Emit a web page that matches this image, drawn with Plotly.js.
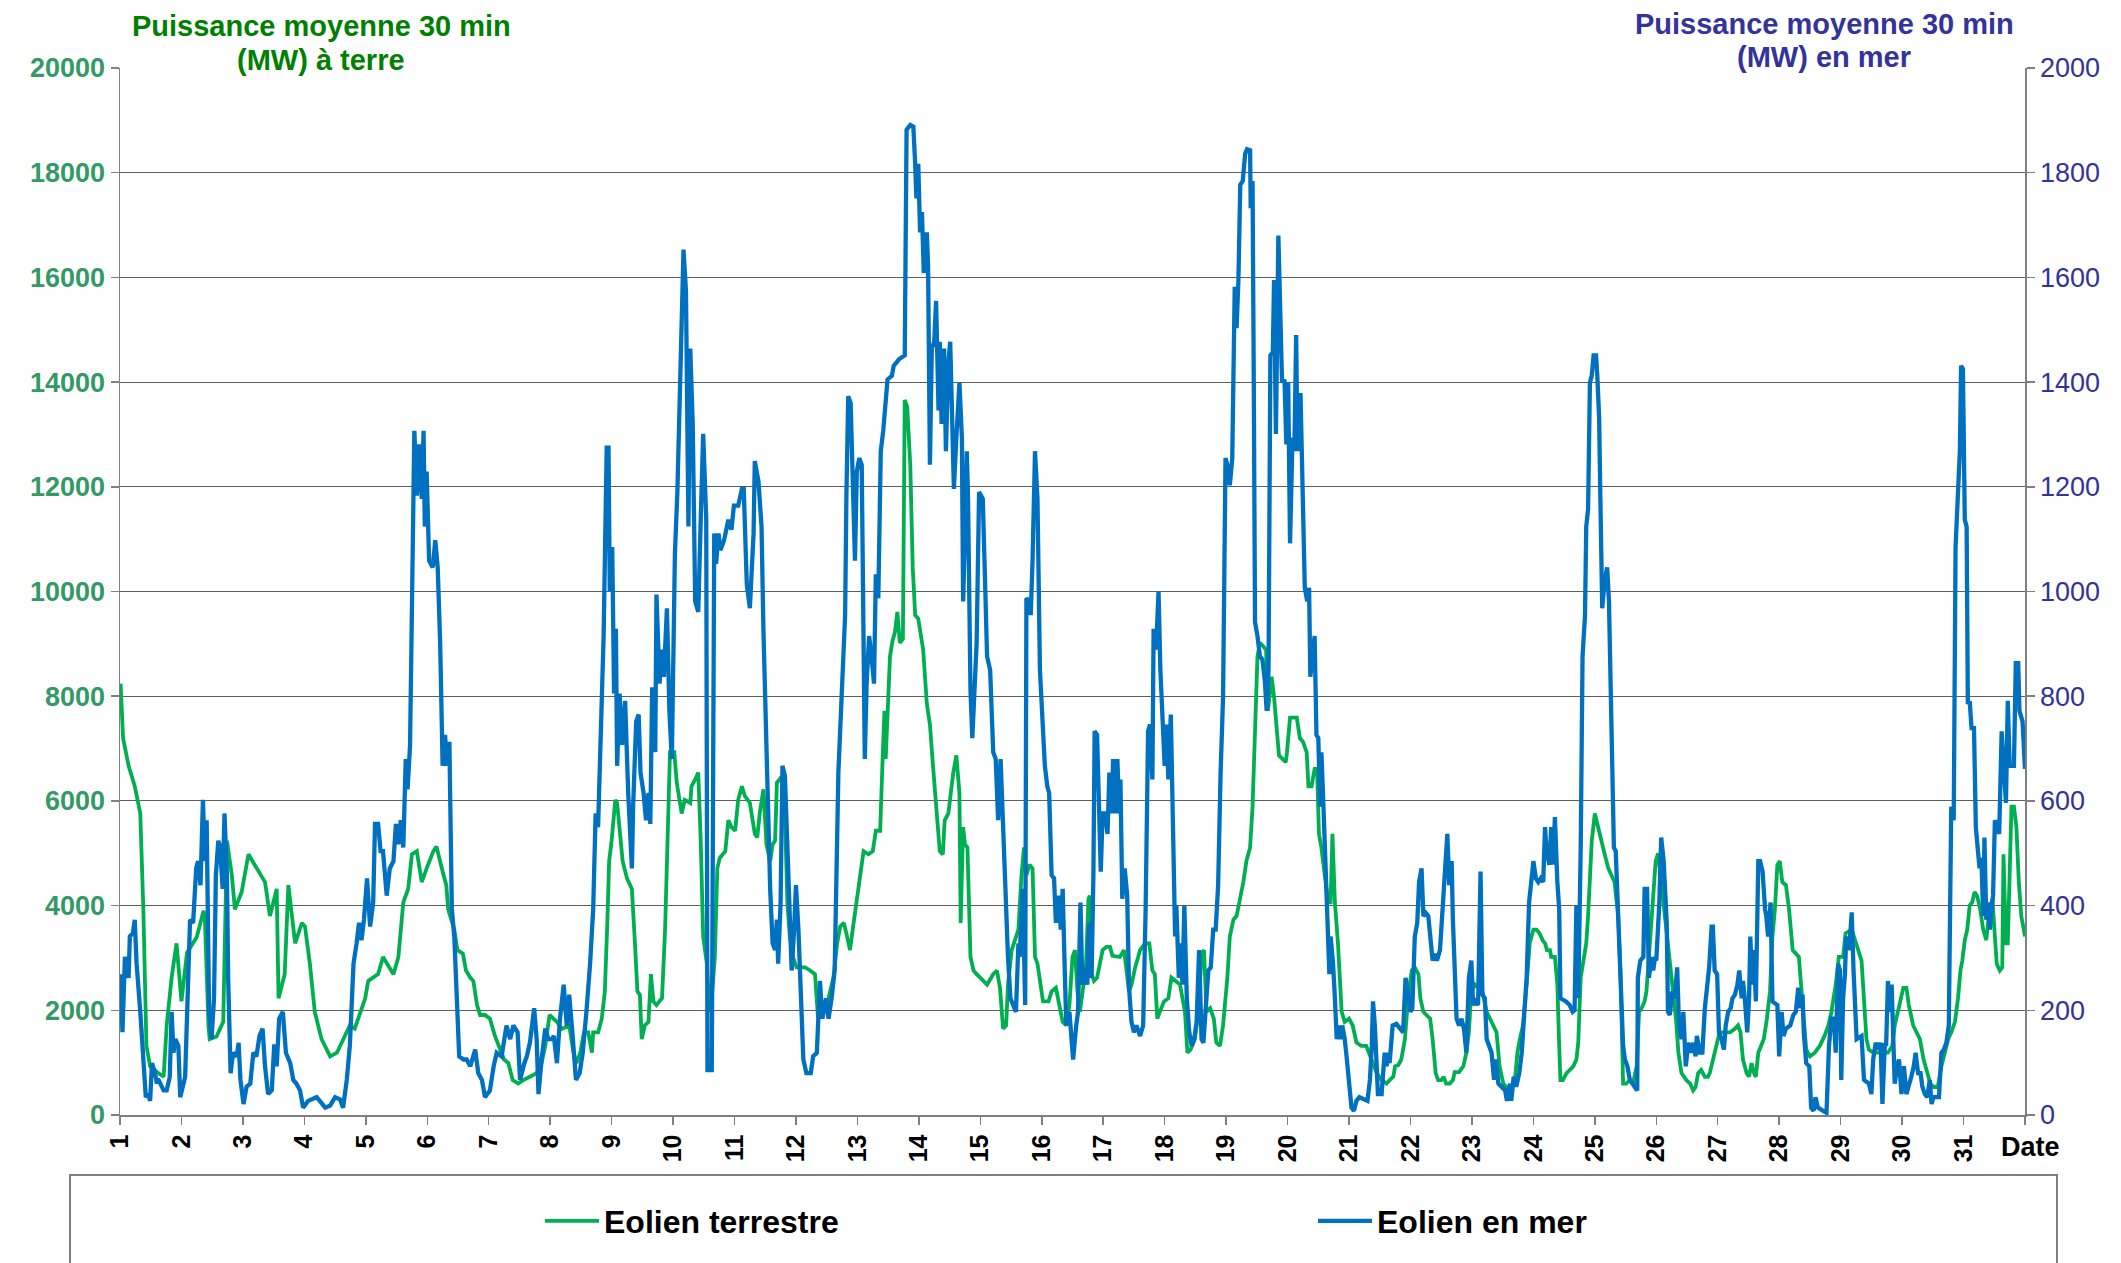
<!DOCTYPE html>
<html><head><meta charset="utf-8">
<script src="https://cdn.plot.ly/plotly-3.0.1.min.js"></script>
<style>html,body{margin:0;padding:0;background:#fff;}#chart{width:2121px;height:1263px;}</style>
</head><body><div id="chart"></div>
<script>
// Eolien terrestre (MW, axe gauche) : [jour, MW]
const terreSamples = [
[1.01,8240],[1.05,7200],[1.14,6670],[1.19,6480],[1.24,6280],[1.33,5760],[1.38,3930],[1.43,1320],[1.49,930],[1.60,820],[1.71,730],[1.76,1710],[1.84,2625],[1.92,3280],[2.00,2170],[2.09,3100],[2.25,3400],[2.36,3900],[2.38,3800],[2.44,1700],[2.46,1450],[2.57,1500],[2.68,1780],[2.74,5240],[2.82,4580],[2.87,3930],[2.98,4260],
[3.09,4980],[3.22,4710],[3.36,4450],[3.44,3800],[3.55,4320],[3.58,2230],[3.68,2690],[3.74,4390],[3.85,3280],[3.96,3670],[4.01,3600],[4.09,2890],[4.17,1970],[4.28,1450],[4.42,1120],[4.53,1190],[4.63,1450],[4.74,1710],[4.82,1650],[4.99,2230],
[5.04,2560],[5.20,2690],[5.28,3020],[5.45,2690],[5.53,3020],[5.61,4060],[5.69,4320],[5.75,4980],[5.83,5040],[5.91,4450],[5.99,4710],[6.05,4910],[6.10,5040],[6.15,5130],[6.20,4850],[6.25,4650],[6.31,4390],[6.34,3930],[6.44,3540],[6.49,3150],[6.58,3080],[6.63,2760],[6.70,2625],[6.75,2560],[6.81,2100],[6.86,1910],[6.94,1910],
[7.02,1840],[7.10,1515],[7.18,1250],[7.25,1060],[7.32,990],[7.39,666],[7.48,600],[7.56,666],[7.67,730],[7.78,800],[7.86,990],[7.92,1320],[7.99,1910],[8.05,1840],[8.11,1780],[8.19,1645],[8.31,1710],[8.38,1190],[8.43,990],[8.49,1190],[8.55,1580],[8.62,1580],[8.68,1190],[8.70,1580],[8.78,1580],[8.84,1840],[8.89,2360],[8.93,3670],[8.96,4850],
[9.00,5240],[9.06,6020],[9.09,5960],[9.14,5240],[9.18,4850],[9.25,4520],[9.33,4320],[9.38,3280],[9.42,2360],[9.46,2300],[9.49,1450],[9.54,1710],[9.60,1780],[9.64,2690],[9.68,2170],[9.73,2100],[9.82,2230],[9.87,3540],[9.91,5240],[9.95,6930],
[10.02,6930],[10.06,6350],[10.14,5760],[10.19,6020],[10.28,5960],[10.30,6280],[10.36,6410],[10.41,6540],[10.45,5240],[10.49,3410],[10.55,2890],[10.59,1970],[10.63,2230],[10.68,3020],[10.72,4710],[10.76,4910],[10.85,5040],[10.90,5630],[10.95,5500],
[11.01,5430],[11.06,6020],[11.12,6280],[11.17,6090],[11.25,5960],[11.33,5370],[11.37,5300],[11.41,5760],[11.47,6220],[11.52,5170],[11.58,4850],[11.62,5170],[11.66,5240],[11.69,6350],[11.74,6410],[11.78,6480],[11.82,5760],[11.86,4060],[11.90,3410],[11.95,3020],
[12.01,2820],[12.15,2820],[12.23,2760],[12.31,2690],[12.36,1840],[12.40,2100],[12.45,2040],[12.53,2230],[12.61,2625],[12.67,3280],[12.72,3600],[12.78,3670],[12.82,3470],[12.88,3150],[12.93,3600],[12.98,4060],
[13.03,4520],[13.10,5040],[13.18,4980],[13.25,5040],[13.30,5430],[13.37,5430],[13.41,6800],[13.44,7720],[13.46,6800],[13.49,7720],[13.53,8760],[13.57,9050],[13.61,9220],[13.65,9610],[13.69,9020],[13.74,9090],[13.77,13660],[13.81,13530],[13.86,12420],[13.90,10460],[13.94,9550],[13.99,9480],
[14.03,9150],[14.07,8890],[14.13,7850],[14.18,7460],[14.23,6670],[14.29,5890],[14.34,5040],[14.39,4980],[14.42,5630],[14.48,5760],[14.52,6150],[14.56,6540],[14.61,6870],[14.66,6150],[14.68,3670],[14.72,5500],[14.75,5170],[14.79,5110],[14.84,3020],[14.89,2760],[14.94,2690],[14.99,2625],
[15.11,2490],[15.21,2690],[15.27,2760],[15.32,2430],[15.37,1650],[15.42,1710],[15.45,2490],[15.51,3150],[15.62,3540],[15.67,4580],[15.71,5110],[15.75,4580],[15.80,4780],[15.85,4710],[15.89,3020],[15.93,2890],[15.97,2560],
[16.02,2170],[16.11,2170],[16.16,2360],[16.23,2430],[16.28,2170],[16.34,1780],[16.40,1710],[16.45,2100],[16.50,3020],[16.54,3150],[16.58,2360],[16.62,1970],[16.68,2490],[16.72,2890],[16.76,4130],[16.78,4190],[16.81,2690],[16.85,2560],[16.90,2625],[16.95,2890],[16.99,3150],
[17.05,3210],[17.11,3210],[17.15,3040],[17.27,3020],[17.34,3150],[17.38,2760],[17.42,2360],[17.46,2490],[17.52,2820],[17.60,3150],[17.68,3280],[17.75,3280],[17.80,2760],[17.84,2690],[17.88,1840],[17.92,1970],[17.99,2170],
[18.06,2230],[18.11,2625],[18.18,2560],[18.25,2490],[18.33,1970],[18.37,1190],[18.42,1250],[18.49,1450],[18.55,1970],[18.60,3080],[18.64,3150],[18.68,1970],[18.74,2040],[18.80,1840],[18.84,1385],[18.90,1320],[18.95,1710],
[19.02,2625],[19.06,3410],[19.12,3735],[19.17,3800],[19.22,4060],[19.28,4450],[19.33,4850],[19.39,5110],[19.43,5890],[19.47,7330],[19.51,8760],[19.55,9020],[19.65,8890],[19.68,7720],[19.74,8370],[19.78,7980],[19.82,7390],[19.86,6870],[19.97,6740],[19.99,6930],
[20.04,7590],[20.15,7590],[20.20,7200],[20.25,7130],[20.31,6930],[20.34,6280],[20.39,6280],[20.44,6610],[20.48,6610],[20.51,5370],[20.55,5110],[20.61,4580],[20.66,4060],[20.70,4060],[20.73,5370],[20.77,4060],[20.82,3280],[20.88,1970],[20.93,1780],
[21.00,1840],[21.06,1710],[21.12,1385],[21.20,1320],[21.28,1320],[21.37,1060],[21.45,800],[21.53,666],[21.61,600],[21.66,666],[21.72,730],[21.75,930],[21.80,950],[21.85,1060],[21.91,1450],[21.96,2230],
[22.02,2760],[22.07,2820],[22.13,2690],[22.16,2230],[22.21,1970],[22.26,1910],[22.32,1840],[22.36,1450],[22.41,800],[22.45,666],[22.50,666],[22.54,730],[22.58,600],[22.64,600],[22.69,666],[22.72,820],[22.79,820],[22.86,930],[22.91,1190],[22.95,1580],[22.99,2360],
[23.05,2490],[23.10,2430],[23.17,2360],[23.24,1970],[23.29,1840],[23.35,1710],[23.40,1580],[23.45,930],[23.51,600],[23.56,535],[23.64,470],[23.70,666],[23.74,1190],[23.78,1450],[23.83,1710],[23.89,2490],[23.94,3280],
[24.00,3540],[24.05,3540],[24.10,3470],[24.15,3340],[24.19,3280],[24.22,3150],[24.27,3150],[24.29,3020],[24.35,3020],[24.39,2490],[24.42,1320],[24.44,666],[24.48,666],[24.54,800],[24.59,860],[24.65,930],[24.70,1060],[24.73,1385],[24.77,2625],[24.81,2890],[24.86,3280],[24.89,3800],[24.95,5240],
[25.00,5760],[25.05,5500],[25.11,5240],[25.16,4980],[25.22,4710],[25.27,4580],[25.32,4450],[25.38,3800],[25.42,2625],[25.46,600],[25.51,600],[25.57,666],[25.62,600],[25.68,930],[25.72,1970],[25.76,2040],[25.81,2170],[25.84,2360],[25.89,3280],[25.95,4320],[25.99,4850],
[26.03,5000],[26.07,4580],[26.12,4060],[26.18,3410],[26.22,2890],[26.27,2360],[26.32,1840],[26.36,1190],[26.41,800],[26.49,666],[26.55,600],[26.60,470],[26.64,535],[26.68,800],[26.73,860],[26.79,730],[26.84,730],[26.87,800],[26.92,1060],[26.98,1385],
[27.03,1580],[27.20,1580],[27.28,1645],[27.33,1710],[27.37,1580],[27.41,1060],[27.47,800],[27.51,730],[27.55,990],[27.59,800],[27.62,730],[27.66,1190],[27.71,1320],[27.75,1450],[27.80,1840],[27.85,2360],[27.89,3410],[27.93,3930],[27.97,4780],
[28.01,4850],[28.05,4450],[28.11,4390],[28.16,3930],[28.22,3150],[28.32,3020],[28.36,2490],[28.40,1840],[28.44,1250],[28.50,1120],[28.58,1190],[28.66,1320],[28.74,1515],[28.80,1710],[28.85,1970],[28.92,2490],[28.97,3020],
[29.04,3020],[29.08,3470],[29.18,3540],[29.21,3410],[29.27,3210],[29.34,2950],[29.38,2230],[29.42,1450],[29.46,1250],[29.53,1190],[29.77,1190],[29.84,1320],[29.88,1710],[29.95,2040],
[30.02,2430],[30.07,2430],[30.11,2100],[30.18,1710],[30.23,1580],[30.29,1450],[30.35,1060],[30.41,800],[30.46,600],[30.51,535],[30.58,535],[30.64,930],[30.69,1190],[30.75,1450],[30.80,1580],[30.86,1780],[30.91,2230],[30.95,2760],[30.98,2950],
[31.02,3340],[31.06,3540],[31.10,4000],[31.14,4060],[31.18,4260],[31.22,4190],[31.27,3930],[31.32,3540],[31.37,3340],[31.41,3800],[31.47,4130],[31.51,3410],[31.54,2890],[31.59,2760],[31.63,2820],[31.65,4980],[31.69,3280],[31.72,3280],[31.75,4580],[31.78,5890],[31.82,5890],[31.86,5500],[31.90,4450],[31.94,3800],[32.00,3410]
];
// Eolien en mer (MW, axe droit) : [jour, MW]
const merSamples = [
[1.01,269],[1.04,158],[1.08,302],[1.14,262],[1.16,341],[1.21,347],[1.24,373],[1.27,289],[1.33,197],[1.38,119],[1.42,34],[1.46,40],[1.49,27],[1.52,99],[1.57,80],[1.60,60],[1.62,69],[1.71,47],[1.76,47],[1.81,73],[1.84,197],[1.87,119],[1.90,145],[1.95,132],[1.98,34],
[2.06,73],[2.11,289],[2.14,373],[2.19,367],[2.24,471],[2.27,485],[2.31,439],[2.35,602],[2.38,485],[2.41,563],[2.45,197],[2.49,145],[2.53,223],[2.56,458],[2.60,524],[2.63,511],[2.67,432],[2.70,576],[2.74,458],[2.76,262],[2.80,80],[2.84,119],[2.90,112],[2.93,138],[2.96,67],
[3.01,21],[3.06,54],[3.12,60],[3.17,119],[3.22,112],[3.27,151],[3.32,165],[3.36,93],[3.41,40],[3.47,47],[3.51,135],[3.55,93],[3.59,184],[3.65,197],[3.70,119],[3.77,99],[3.82,67],[3.87,60],[3.93,47],[3.98,14],
[4.06,27],[4.20,34],[4.34,14],[4.42,18],[4.50,34],[4.58,30],[4.63,14],[4.69,67],[4.74,132],[4.80,289],[4.85,328],[4.89,367],[4.93,334],[4.97,373],
[5.02,452],[5.07,360],[5.12,406],[5.15,556],[5.20,556],[5.24,504],[5.28,504],[5.34,419],[5.39,471],[5.45,485],[5.49,556],[5.53,517],[5.57,563],[5.61,511],[5.65,680],[5.68,622],[5.72,706],[5.76,1007],[5.79,1307],[5.83,1183],[5.87,1281],[5.91,1177],[5.94,1307],[5.96,1124],[5.99,1229],
[6.03,1059],[6.09,1046],[6.13,1098],[6.17,1046],[6.21,902],[6.25,667],[6.29,726],[6.32,667],[6.36,713],[6.40,393],[6.44,341],[6.48,197],[6.52,112],[6.59,106],[6.64,106],[6.70,93],[6.78,125],[6.83,80],[6.89,67],[6.94,34],
[7.02,47],[7.08,93],[7.13,119],[7.21,112],[7.29,171],[7.35,145],[7.40,171],[7.47,158],[7.51,67],[7.58,99],[7.62,112],[7.67,138],[7.74,204],[7.78,145],[7.81,40],[7.86,106],[7.92,165],[7.97,145],
[8.03,145],[8.06,151],[8.11,99],[8.16,184],[8.22,249],[8.27,171],[8.31,230],[8.37,145],[8.42,67],[8.48,80],[8.53,119],[8.59,197],[8.65,289],[8.70,393],[8.74,576],[8.78,550],[8.82,746],[8.87,915],[8.92,1275],[8.95,1275],[8.97,1000],
[9.01,1085],[9.04,805],[9.07,929],[9.09,667],[9.13,805],[9.17,707],[9.22,791],[9.27,615],[9.33,471],[9.35,589],[9.40,752],[9.44,765],[9.47,654],[9.52,615],[9.56,563],[9.60,615],[9.63,556],[9.66,817],[9.71,693],[9.73,994],[9.78,824],[9.82,889],[9.85,837],[9.90,968],[9.94,772],[9.98,680],
[10.03,1072],[10.07,1190],[10.11,1386],[10.17,1653],[10.21,1574],[10.25,1124],[10.28,1464],[10.32,1320],[10.36,981],[10.41,961],[10.45,1137],[10.49,1301],[10.54,1137],[10.56,86],[10.63,86],[10.67,1111],[10.70,1053],[10.74,1111],[10.77,1079],[10.83,1098],[10.90,1137],[10.95,1118],[10.99,1164],
[11.06,1164],[11.12,1196],[11.15,1196],[11.20,1013],[11.25,968],[11.31,1111],[11.33,1249],[11.39,1210],[11.44,1124],[11.47,929],[11.50,772],[11.52,733],[11.55,511],[11.58,432],[11.62,328],[11.66,315],[11.69,373],[11.71,289],[11.75,406],[11.78,667],[11.82,648],[11.86,511],[11.89,380],[11.93,276],[11.97,354],
[12.00,439],[12.04,354],[12.08,197],[12.12,106],[12.17,80],[12.24,80],[12.28,112],[12.34,119],[12.39,256],[12.43,184],[12.49,223],[12.53,184],[12.58,223],[12.63,276],[12.69,654],[12.74,785],[12.80,955],[12.82,1177],[12.85,1373],[12.89,1360],[12.93,1216],[12.96,1059],[12.99,1229],
[13.03,1255],[13.07,1242],[13.10,955],[13.12,680],[13.15,824],[13.19,915],[13.23,876],[13.27,824],[13.30,1033],[13.34,987],[13.38,1268],[13.42,1307],[13.49,1405],[13.56,1412],[13.59,1431],[13.68,1444],[13.77,1451],[13.80,1882],[13.86,1891],[13.91,1888],[13.94,1817],[13.96,1751],[13.99,1817],
[14.02,1686],[14.05,1725],[14.08,1608],[14.13,1686],[14.15,1621],[14.18,1242],[14.21,1464],[14.25,1477],[14.28,1555],[14.32,1346],[14.34,1477],[14.37,1320],[14.41,1464],[14.44,1268],[14.48,1438],[14.51,1477],[14.55,1242],[14.57,1196],[14.61,1294],[14.66,1399],[14.70,1294],[14.72,981],[14.75,1111],[14.78,1268],[14.80,1177],[14.84,811],[14.87,720],[14.91,850],[14.94,902],[14.98,1190],
[15.04,1177],[15.08,1007],[15.11,876],[15.16,850],[15.21,693],[15.25,680],[15.29,563],[15.33,680],[15.37,550],[15.42,393],[15.45,302],[15.49,223],[15.54,210],[15.58,197],[15.62,328],[15.64,302],[15.69,432],[15.73,210],[15.75,987],[15.80,981],[15.82,955],[15.85,1059],[15.89,1268],[15.93,1177],[15.97,850],
[16.02,720],[16.05,667],[16.09,628],[16.12,615],[16.16,458],[16.20,452],[16.23,367],[16.27,419],[16.31,354],[16.34,432],[16.38,249],[16.40,171],[16.45,197],[16.51,106],[16.56,171],[16.59,197],[16.63,406],[16.66,249],[16.70,282],[16.74,249],[16.77,367],[16.81,262],[16.84,458],[16.86,733],[16.90,726],[16.94,543],[16.96,465],[16.99,576],
[17.03,576],[17.07,537],[17.10,654],[17.14,576],[17.16,680],[17.19,576],[17.23,680],[17.26,576],[17.28,641],[17.31,413],[17.35,471],[17.39,419],[17.42,243],[17.46,178],[17.50,158],[17.54,171],[17.60,151],[17.65,171],[17.69,393],[17.73,733],[17.76,746],[17.80,641],[17.82,929],[17.86,889],[17.90,1000],[17.93,850],[17.97,759],
[18.00,667],[18.03,746],[18.06,641],[18.10,765],[18.13,550],[18.17,341],[18.19,400],[18.23,262],[18.26,328],[18.29,249],[18.32,400],[18.36,223],[18.40,158],[18.44,132],[18.48,145],[18.52,178],[18.56,315],[18.60,145],[18.63,138],[18.67,197],[18.71,276],[18.75,282],[18.79,354],[18.83,354],[18.87,439],[18.91,654],[18.95,798],[18.99,1255],
[19.02,1242],[19.06,1203],[19.10,1255],[19.14,1582],[19.17,1503],[19.20,1595],[19.23,1777],[19.27,1784],[19.31,1836],[19.34,1845],[19.39,1843],[19.40,1732],[19.43,1784],[19.45,1399],[19.47,942],[19.51,915],[19.55,876],[19.59,870],[19.63,830],[19.66,772],[19.69,850],[19.72,1451],[19.76,1457],[19.78,1595],[19.81,1301],[19.85,1680],[19.87,1569],[19.91,1399],[19.95,1405],[19.98,1281],
[20.01,1399],[20.04,1092],[20.08,1294],[20.11,1268],[20.14,1490],[20.16,1268],[20.21,1379],[20.24,1242],[20.28,1007],[20.32,981],[20.35,1007],[20.37,837],[20.41,876],[20.44,915],[20.47,726],[20.50,720],[20.53,589],[20.55,693],[20.58,602],[20.62,458],[20.64,354],[20.68,269],[20.70,341],[20.74,289],[20.77,223],[20.80,145],[20.83,171],[20.86,145],[20.89,171],[20.93,145],[20.96,112],
[21.00,60],[21.04,14],[21.08,8],[21.12,27],[21.17,34],[21.23,30],[21.30,27],[21.34,67],[21.37,132],[21.39,217],[21.42,171],[21.45,93],[21.47,40],[21.53,40],[21.58,119],[21.61,93],[21.64,119],[21.66,99],[21.71,171],[21.77,174],[21.83,165],[21.88,158],[21.92,262],[21.96,236],
[22.00,197],[22.03,204],[22.07,341],[22.11,367],[22.14,445],[22.18,471],[22.21,380],[22.25,386],[22.29,380],[22.33,328],[22.36,295],[22.40,308],[22.43,295],[22.48,315],[22.52,380],[22.56,458],[22.60,537],[22.63,439],[22.67,485],[22.69,373],[22.72,289],[22.75,184],[22.79,171],[22.83,184],[22.87,165],[22.91,119],[22.95,262],[22.99,295],
[23.02,210],[23.06,217],[23.10,210],[23.14,465],[23.17,230],[23.21,223],[23.24,145],[23.28,132],[23.32,119],[23.36,67],[23.39,106],[23.43,60],[23.48,54],[23.54,47],[23.57,27],[23.62,60],[23.64,27],[23.68,73],[23.72,54],[23.77,80],[23.81,119],[23.84,171],[23.89,262],[23.93,406],[23.97,458],
[24.00,485],[24.04,452],[24.08,445],[24.12,452],[24.16,445],[24.19,550],[24.21,511],[24.26,478],[24.29,550],[24.32,478],[24.35,569],[24.39,445],[24.42,393],[24.44,223],[24.53,217],[24.59,210],[24.64,197],[24.67,200],[24.70,400],[24.73,223],[24.77,511],[24.80,876],[24.84,955],[24.86,1124],[24.89,1157],[24.92,1399],[24.95,1412],[24.98,1451],
[25.02,1451],[25.04,1412],[25.07,1333],[25.09,1177],[25.12,968],[25.16,1020],[25.20,1046],[25.23,981],[25.27,720],[25.31,511],[25.34,504],[25.38,380],[25.43,223],[25.46,132],[25.49,106],[25.53,93],[25.57,67],[25.61,60],[25.65,54],[25.69,47],[25.70,262],[25.74,295],[25.79,302],[25.81,432],[25.85,432],[25.88,262],[25.92,302],[25.95,276],[25.98,302],
[26.00,295],[26.05,406],[26.08,530],[26.12,485],[26.17,367],[26.19,197],[26.22,191],[26.26,236],[26.30,223],[26.34,282],[26.37,171],[26.41,145],[26.44,197],[26.48,93],[26.52,138],[26.56,119],[26.60,138],[26.64,112],[26.66,151],[26.71,119],[26.75,119],[26.79,204],[26.83,249],[26.86,282],[26.90,360],[26.92,360],[26.95,276],[26.99,269],
[27.02,158],[27.06,145],[27.10,125],[27.13,171],[27.17,197],[27.21,204],[27.24,223],[27.28,230],[27.32,249],[27.35,276],[27.39,223],[27.41,256],[27.44,223],[27.48,158],[27.51,223],[27.53,341],[27.56,249],[27.59,315],[27.62,217],[27.66,485],[27.69,485],[27.73,465],[27.77,393],[27.79,380],[27.82,341],[27.86,406],[27.89,217],[27.97,210],
[28.00,112],[28.04,197],[28.07,151],[28.11,165],[28.18,171],[28.23,191],[28.27,197],[28.31,243],[28.35,204],[28.38,230],[28.40,158],[28.44,99],[28.49,93],[28.52,14],[28.56,8],[28.59,34],[28.63,14],[28.71,8],[28.77,4],[28.81,132],[28.85,184],[28.89,184],[28.92,119],[28.96,289],[28.99,276],
[29.01,67],[29.04,223],[29.07,269],[29.09,341],[29.14,315],[29.18,387],[29.21,276],[29.26,145],[29.34,151],[29.38,67],[29.46,60],[29.50,40],[29.53,106],[29.57,138],[29.61,125],[29.65,138],[29.68,21],[29.72,138],[29.74,132],[29.77,256],[29.80,197],[29.83,249],[29.85,171],[29.88,60],[29.92,93],[29.95,106],[29.99,40],
[30.03,93],[30.07,40],[30.11,54],[30.15,73],[30.19,93],[30.22,119],[30.26,80],[30.30,80],[30.33,54],[30.37,40],[30.41,34],[30.45,67],[30.48,21],[30.51,34],[30.60,34],[30.64,119],[30.68,125],[30.72,138],[30.76,171],[30.80,589],[30.84,563],[30.87,1085],[30.91,1190],[30.94,1268],[30.96,1431],[30.99,1425],
[31.02,1137],[31.05,1124],[31.07,785],[31.10,791],[31.13,739],[31.17,739],[31.20,550],[31.24,478],[31.26,471],[31.29,491],[31.32,380],[31.34,530],[31.37,373],[31.40,406],[31.43,354],[31.45,387],[31.48,419],[31.51,563],[31.54,550],[31.58,537],[31.62,733],[31.65,661],[31.69,596],[31.72,791],[31.75,667],[31.82,667],[31.85,863],[31.89,863],[31.91,772],[31.96,752],[32.00,661]
];
const dayTicks  = [1,2,3,4,5,6,7,8,9,10,11,12,13,14,15,16,17,18,19,20,21,22,23,24,25,26,27,28,29,30,31,32];
const dayLabels = ['1','2','3','4','5','6','7','8','9','10','11','12','13','14','15','16','17','18','19','20','21','22','23','24','25','26','27','28','29','30','31',''];
const seriesNames = ['Eolien terrestre','Eolien en mer'];

const terreDays = terreSamples.map(p => p[0]);
const terreMW   = terreSamples.map(p => p[1]);
const merDays   = merSamples.map(p => p[0]);
const merMW     = merSamples.map(p => p[1]);

const W = 2121, H = 1263, L = 120, R = 96, T = 68, B = 148;
const pw = W - L - R, ph = H - T - B;
const px = X => (X - L) / pw;
const py = Y => (H - B - Y) / ph;
const FONT = 'Liberation Sans, Arial, Helvetica, sans-serif';
const AX = '#808080';

const traces = [
  {x: terreDays, y: terreMW, type: 'scatter', mode: 'lines', name: seriesNames[0],
   line: {color: '#00B050', width: 3.8}, yaxis: 'y', legend: 'legend'},
  {x: merDays, y: merMW, type: 'scatter', mode: 'lines', name: seriesNames[1],
   line: {color: '#0070C0', width: 4.3}, yaxis: 'y2', legend: 'legend2'}
];

const legendBase = {
  xanchor: 'left', yanchor: 'middle', y: py(1221),
  font: {family: FONT, size: 32, color: '#000', weight: 'bold'},
  bgcolor: 'rgba(0,0,0,0)', borderwidth: 0, itemwidth: 54
};

const layout = {
  width: W, height: H,
  margin: {l: L, r: R, t: T, b: B, pad: 0, autoexpand: false},
  paper_bgcolor: '#fff', plot_bgcolor: '#fff',
  font: {family: FONT, color: '#000'},
  showlegend: true,
  xaxis: {range: [1, 32], tickmode: 'array', tickvals: dayTicks, ticktext: dayLabels, automargin: false,
    tickangle: -90, ticks: 'outside', ticklen: 8, tickwidth: 1.5, tickcolor: AX,
    showline: true, linecolor: AX, linewidth: 1.5, showgrid: false, zeroline: false,
    tickfont: {family: FONT, size: 25, color: '#000', weight: 'bold'}},
  yaxis: {range: [0, 20000], tick0: 0, dtick: 2000, tickformat: 'd', automargin: false,
    showgrid: true, gridcolor: '#5f5f5f', gridwidth: 1,
    showline: true, linecolor: AX, linewidth: 1.5, ticks: 'outside', ticklen: 8, tickwidth: 1.5, tickcolor: AX,
    zeroline: false, tickfont: {family: FONT, size: 27, color: '#339966', weight: 'bold'}},
  yaxis2: {range: [0, 2000], tick0: 0, dtick: 200, tickformat: 'd', overlaying: 'y', side: 'right', automargin: false,
    showgrid: false, showline: true, linecolor: AX, linewidth: 1.5, ticks: 'outside', ticklen: 8, tickwidth: 1.5, tickcolor: AX,
    zeroline: false, tickfont: {family: FONT, size: 27, color: '#333399'}},
  legend: Object.assign({}, legendBase, {x: px(540)}),
  legend2: Object.assign({}, legendBase, {x: px(1313)}),
  shapes: [
    {type: 'rect', xref: 'paper', yref: 'paper', x0: px(122), x1: px(522), y0: py(78), y1: py(2),
     fillcolor: '#fff', line: {width: 0}, layer: 'above'},
    {type: 'rect', xref: 'paper', yref: 'paper', x0: px(1623), x1: px(2023), y0: py(78), y1: py(2),
     fillcolor: '#fff', line: {width: 0}, layer: 'above'},
    {type: 'rect', xref: 'paper', yref: 'paper', x0: px(70), x1: px(2057), y0: py(1175), y1: py(1290),
     fillcolor: 'rgba(0,0,0,0)', line: {color: '#7f7f7f', width: 2}}
  ],
  annotations: [
    {text: 'Puissance moyenne 30 min', xref: 'paper', yref: 'paper', x: px(321), y: py(26),
     xanchor: 'center', yanchor: 'middle', showarrow: false,
     font: {family: FONT, size: 29, color: '#008000', weight: 'bold'}},
    {text: '(MW) à terre', xref: 'paper', yref: 'paper', x: px(321), y: py(60),
     xanchor: 'center', yanchor: 'middle', showarrow: false,
     font: {family: FONT, size: 29, color: '#008000', weight: 'bold'}},
    {text: 'Puissance moyenne 30 min', xref: 'paper', yref: 'paper', x: px(1824), y: py(24),
     xanchor: 'center', yanchor: 'middle', showarrow: false,
     font: {family: FONT, size: 29, color: '#333399', weight: 'bold'}},
    {text: '(MW) en mer', xref: 'paper', yref: 'paper', x: px(1824), y: py(57),
     xanchor: 'center', yanchor: 'middle', showarrow: false,
     font: {family: FONT, size: 29, color: '#333399', weight: 'bold'}},
    {text: 'Date', xref: 'paper', yref: 'paper', x: px(2030), y: py(1147),
     xanchor: 'center', yanchor: 'middle', showarrow: false,
     font: {family: FONT, size: 27, color: '#000', weight: 'bold'}}
  ]
};

Plotly.newPlot('chart', traces, layout, {displayModeBar: false, staticPlot: true});
</script></body></html>
